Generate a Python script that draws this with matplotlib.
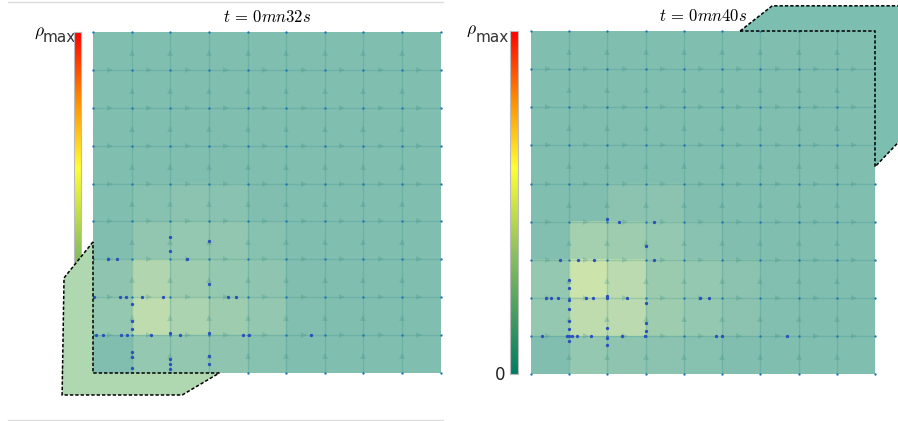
import numpy as np
import matplotlib
matplotlib.use("Agg")
import matplotlib.pyplot as plt
from matplotlib.colors import LinearSegmentedColormap
from matplotlib.patches import Polygon
from matplotlib.lines import Line2D

plt.rcParams['mathtext.fontset'] = 'cm'

W, H = 898, 421
N = 9  # cells per side

titles = [r'$t\,=\,0mn32s$', r'$t\,=\,0mn40s$']

# cell density as a fraction of rho_max, rows from top to bottom
left_density = [
    [0, 0, 0, 0, 0, 0, 0, 0, 0],
    [0, 0, 0, 0, 0, 0, 0, 0, 0],
    [0, 0, 0, 0, 0, 0, 0, 0, 0],
    [0, 0, 0, 0, 0, 0, 0, 0, 0],
    [0, 0.04, 0.06, 0.05, 0.01, 0, 0, 0, 0],
    [0.01, 0.09, 0.11, 0.09, 0.04, 0, 0, 0, 0],
    [0.08, 0.25, 0.15, 0.11, 0.08, 0.01, 0, 0, 0],
    [0.11, 0.32, 0.22, 0.15, 0.10, 0.02, 0, 0, 0],
    [0.01, 0.11, 0.10, 0.08, 0.04, 0, 0, 0, 0],
]
right_density = [
    [0, 0, 0, 0, 0, 0, 0, 0, 0],
    [0, 0, 0, 0, 0, 0, 0, 0, 0],
    [0, 0, 0, 0, 0, 0, 0, 0, 0],
    [0, 0, 0, 0, 0, 0, 0, 0, 0],
    [0, 0.01, 0.06, 0.06, 0.01, 0, 0, 0, 0],
    [0.02, 0.19, 0.15, 0.11, 0.05, 0.01, 0, 0, 0],
    [0.11, 0.38, 0.30, 0.14, 0.11, 0.06, 0.02, 0, 0],
    [0.11, 0.32, 0.30, 0.15, 0.11, 0.06, 0.02, 0, 0],
    [0.01, 0.11, 0.08, 0.06, 0.04, 0.01, 0, 0, 0],
]

# vehicles (grid units, origin bottom-left)
left_veh_x = [2, 2, 3, 0.40, 0.63, 2.43, 3,
              0.03, 0.70, 0.85, 1.28, 1.81, 3.50, 3.70,
              1, 1, 1,
              0.07, 0.26, 0.73, 0.87, 1.51, 2, 2.25, 3, 3.88, 4.05, 5.65,
              1, 1, 1, 2, 2, 2, 3, 3]
left_veh_y = [3.59, 3.23, 3.49, 3, 3, 3, 2.35,
              2, 2, 2, 2, 2, 2, 2,
              1.81, 1.36, 1.15,
              1, 1, 1, 1, 1, 1.06, 1, 1.05, 1, 1, 1,
              0.56, 0.43, 0.12, 0.37, 0.23, 0.10, 0.46, 0.24]
right_veh_x = [2, 2.30, 3.22, 3, 0.75, 1.22, 1.65, 3.22,
               1, 1, 0.38, 0.52, 0.70, 1, 1.43, 1.61, 2, 2, 2.52, 3, 4.42, 4.65,
               1, 1, 3, 3, 1, 2,
               0.28, 0.95, 1, 1.07, 1.21, 1.58, 2, 2.39, 2.98, 4.83, 5.0, 6.69,
               1, 2]
right_veh_y = [4.07, 4, 4, 3.37, 3, 3, 3, 3,
               2.47, 2.25, 2, 2, 2, 1.94, 2, 2, 2.06, 2.01, 2, 1.86, 2, 2,
               1.71, 1.40, 1.34, 1.14, 1.18, 1.22,
               1, 1, 1, 1, 1, 1, 0.94, 1, 1, 1, 1, 1,
               0.88, 0.77]

# dashed outline shapes (grid units)
left_shape_x = [0, -0.75, -0.80, 2.31, 3.27, 0]
left_shape_y = [3.46, 2.51, -0.58, -0.58, 0, 0]
right_shape_x = [5.47, 6.31, 9.8, 9.8, 9.0, 9.0]
right_shape_y = [9.0, 9.66, 9.66, 6.28, 5.44, 9.0]

cmap = LinearSegmentedColormap.from_list(
    'rho', [(0, '#007d62'), (0.35, '#8cc05f'), (0.6, '#ffff33'),
            (0.8, '#ff8c00'), (1.0, '#ff0000')])

line_col = '#3a8f85'
node_col = '#1f77b4'
veh_col = '#2a50be'


def frac(x0, y0, x1, y1):
    # pixel box -> figure fraction rect
    return [x0 / W, 1 - y1 / H, (x1 - x0) / W, (y1 - y0) / H]


def draw_panel(ax, cax, density, vx, vy, sx, sy, shape_col, title):
    grad = np.linspace(0, 1, 256)[:, None]
    cax.imshow(grad, cmap=cmap, aspect='auto', origin='lower', extent=(0, 1, 0, 1))
    cax.set_xticks([])
    cax.set_yticks([])
    for s in cax.spines.values():
        s.set_color('#bbbbbb')
        s.set_linewidth(0.8)

    ax.imshow(np.array(density), cmap=cmap, vmin=0, vmax=1, alpha=0.5,
              extent=(0, N, 0, N), origin='upper', interpolation='nearest',
              aspect='auto', zorder=0)
    for k in range(1, N):
        ax.plot([k, k], [0, N], color=line_col, alpha=0.25, lw=1, zorder=1)
        ax.plot([0, N], [k, k], color=line_col, alpha=0.25, lw=1, zorder=1)
    seg = np.arange(N) + 0.45
    for k in range(1, N):
        ax.plot(seg, np.full(N, k), ls='none', marker='>', ms=5, mew=0,
                color=line_col, alpha=0.25, zorder=1)
        ax.plot(np.full(N, k), seg, ls='none', marker='^', ms=5, mew=0,
                color=line_col, alpha=0.25, zorder=1)
    gx, gy = np.meshgrid(np.arange(N + 1), np.arange(N + 1))
    ax.plot(gx.ravel(), gy.ravel(), ls='none', marker='o', ms=1.7, mew=0,
            color=node_col, zorder=2, clip_on=False)
    ax.plot(vx, vy, ls='none', marker='o', ms=2.4, mew=0, color=veh_col,
            zorder=3, clip_on=False)

    ax.add_patch(Polygon(np.column_stack([sx, sy]), closed=True,
                         facecolor=shape_col, edgecolor='black', lw=1.1,
                         linestyle=(0, (2.2, 1.3)), clip_on=False, zorder=5))
    ax.text(N / 2, 9.4, title, ha='center', va='center', fontsize=12)
    ax.set_xlim(0, N)
    ax.set_ylim(0, N)
    ax.axis('off')


fig = plt.figure(figsize=(W / 100, H / 100), dpi=100)

cax1 = fig.add_axes(frac(73.7, 32, 81, 373))
cax2 = fig.add_axes(frac(510, 31, 518, 374))
ax1 = fig.add_axes(frac(93, 32, 440.7, 373))
ax2 = fig.add_axes(frac(531, 31, 875, 374.3))

draw_panel(ax1, cax1, left_density, left_veh_x, left_veh_y,
           left_shape_x, left_shape_y, '#b0d8b0', titles[0])
draw_panel(ax2, cax2, right_density, right_veh_x, right_veh_y,
           right_shape_x, right_shape_y, '#7cbeb0', titles[1])

# colorbar labels (under the axes so the shape can hide them)
for (rx, ry), (mx, my), (zx, zy) in [((39, 32), (43, 38), (66, 373)),
                                     ((471, 30), (476, 37), (500, 375))]:
    fig.text(rx / W, 1 - ry / H, r'$\rho$', ha='center', va='center',
             fontsize=12.5, zorder=-1)
    fig.text(mx / W, 1 - my / H, 'max', ha='left', va='center',
             fontsize=11, color='#333333', zorder=-1)
    fig.text(zx / W, 1 - zy / H, '0', ha='center', va='center',
             fontsize=12, color='#222222', zorder=-1)

# thin separators around the left panel
for y in (1.5, 419.5):
    fig.add_artist(Line2D([8 / W, 443 / W], [1 - y / H] * 2,
                          color='#dddddd', lw=1))

fig.savefig('out.png', dpi=100)
